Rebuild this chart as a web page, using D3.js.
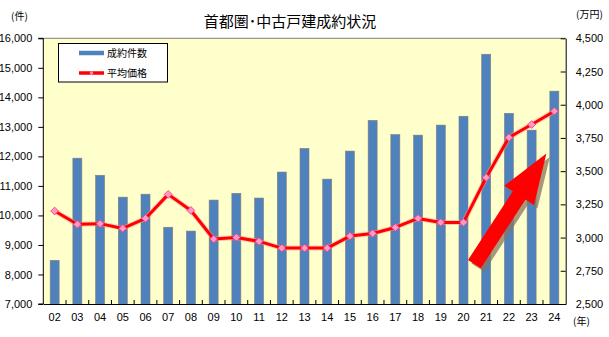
<!DOCTYPE html>
<html><head><meta charset="utf-8">
<script src="https://cdn.jsdelivr.net/npm/d3@7"></script>
<style>
body{margin:0;background:#fff;}
svg{display:block;}
text{font-family:"Liberation Sans Narrow","Liberation Sans",Arial,sans-serif;}
.jp{font-family:"Noto Sans CJK JP",sans-serif;}
</style></head><body>
<svg id="c" width="609" height="337"></svg>
<script>
const years = ["02","03","04","05","06","07","08","09","10","11","12","13","14","15","16","17","18","19","20","21","22","23","24"];
const contracts = [8480,11940,11360,10620,10720,9600,9470,10520,10750,10590,11470,12270,11230,12180,13220,12740,12720,13060,13360,15460,13460,12890,14210];
const prices = [3200,3100,3105,3069,3144,3325,3204,2989,3001,2971,2921,2921,2921,3011,3031,3076,3144,3114,3114,3452,3753,3851,3951];
const leftTicks = [7000,8000,9000,10000,11000,12000,13000,14000,15000,16000];
const rightTicks = [2500,2750,3000,3250,3500,3750,4000,4250,4500];
const title = "首都圏･中古戸建成約状況";
const legendLabels = ["成約件数","平均価格"];
// arrow annotation (index position on x, value on right axis)
const arrowFrom = {i:18.48, v:2800};
const arrowTo = {i:21.65, v:3633};

const svg = d3.select("#c");
const L=43.3, R=565.7, T=38.3, B=304;
const x = d3.scaleBand().domain(years).range([L,R]).paddingInner(0.6).paddingOuter(0.3);
const step = (R-L)/years.length;
const xi = i => L + step*(i+0.5);
const yL = d3.scaleLinear().domain([7000,16000]).range([B,T]);
const yR = d3.scaleLinear().domain([2500,4500]).range([B,T]);
const fmt = d3.format(",");

svg.append("rect").attr("x",L).attr("y",T).attr("width",R-L).attr("height",B-T).attr("fill","#ffffcc");
svg.append("line").attr("x1",L).attr("x2",R).attr("y1",T).attr("y2",T).attr("stroke","#808080");

// bars
svg.selectAll(".bar").data(years).join("rect")
  .attr("x",d=>xi(years.indexOf(d))-4.5).attr("width",9)
  .attr("y",(d,i)=>yL(contracts[i])).attr("height",(d,i)=>B-yL(contracts[i]))
  .attr("fill","#4f81bd").attr("stroke","#7f7f7f").attr("stroke-width",0.6);

// axes
const gl = svg.append("g").attr("transform",`translate(${L},0)`)
  .call(d3.axisLeft(yL).tickValues(leftTicks).tickFormat(fmt).tickSize(5).tickPadding(6));
const gr = svg.append("g").attr("transform",`translate(${R},0)`)
  .call(d3.axisRight(yR).tickValues(rightTicks).tickFormat(fmt).tickSizeInner(-5).tickSizeOuter(0).tickPadding(10));
const gb = svg.append("g").attr("transform",`translate(0,${B})`)
  .call(d3.axisBottom(x).tickSize(0).tickPadding(9));
[gl,gr,gb].forEach(g=>{
  g.selectAll("path,line").attr("stroke","#000");
  g.selectAll("text").attr("font-size","11px").attr("fill","#000")
   .attr("font-family",'"Liberation Sans Narrow","Liberation Sans",Arial,sans-serif');
});
gl.select("path").attr("d",`M-5,${T}H0V${B}H-5`);
// x ticks between categories (inside)
svg.selectAll(".xt").data(d3.range(1,years.length)).join("line")
  .attr("x1",d=>L+step*d).attr("x2",d=>L+step*d).attr("y1",B).attr("y2",B-4).attr("stroke","#000");

// line
const line = d3.line().x((d,i)=>xi(i)).y(d=>yR(d));
svg.append("path").datum(prices).attr("d",line).attr("fill","none")
  .attr("stroke","#ff9999").attr("stroke-width",5).attr("stroke-opacity",0.5).attr("stroke-linejoin","round");
svg.append("path").datum(prices).attr("d",line).attr("fill","none")
  .attr("stroke","#ff0000").attr("stroke-width",3).attr("stroke-linejoin","round");
svg.selectAll(".mk").data(prices).join("path")
  .attr("d",d3.symbol().type(d3.symbolSquare).size(30))
  .attr("transform",(d,i)=>`translate(${xi(i)},${yR(d)}) rotate(45)`)
  .attr("fill","#ff99cc").attr("stroke","#ff3366").attr("stroke-width",0.8);

// arrow
function arrowPts(){
  const x0=xi(arrowFrom.i), y0=yR(arrowFrom.v), x1=xi(arrowTo.i), y1=yR(arrowTo.v);
  const dx=x1-x0, dy=y1-y0, len=Math.hypot(dx,dy), ux=dx/len, uy=dy/len, px=-uy, py=ux;
  const sw=7.6, hw=17.7, hl=50;
  const bx=x1-ux*hl, by=y1-uy*hl;
  return [[x0+px*sw,y0+py*sw],[bx+px*sw,by+py*sw],[bx+px*hw,by+py*hw],[x1,y1],
          [bx-px*hw,by-py*hw],[bx-px*sw,by-py*sw],[x0-px*sw,y0-py*sw]];
}
const ap = arrowPts();
svg.append("polygon").attr("points",ap.map(p=>[p[0]+3.5,p[1]+3.5].join(",")).join(" "))
  .attr("fill","#8a7560").attr("opacity",0.75);
svg.append("polygon").attr("points",ap.map(p=>p.join(",")).join(" ")).attr("fill","#ff0000");

// legend
svg.append("rect").attr("x",58.5).attr("y",43.5).attr("width",109).attr("height",38.5)
  .attr("fill","#fff").attr("stroke","#000").attr("stroke-width",1);
svg.append("line").attr("x1",79).attr("x2",104).attr("y1",53).attr("y2",53)
  .attr("stroke","#4f81bd").attr("stroke-width",4.5);
svg.append("line").attr("x1",79).attr("x2",104).attr("y1",73).attr("y2",73)
  .attr("stroke","#ff0000").attr("stroke-width",3.5);
svg.append("path").attr("d",d3.symbol().type(d3.symbolSquare).size(8)).attr("transform","translate(91.5,73) rotate(45)").attr("fill","#ff99cc");
svg.selectAll(".lg").data(legendLabels).join("text").attr("class","jp")
  .attr("x",107).attr("y",(d,i)=>57+i*20).attr("font-size","10px").text(d=>d);

// titles
svg.append("text").attr("class","jp").attr("x",290).attr("y",27).attr("text-anchor","middle")
  .attr("font-size","15px").text(title);
svg.append("text").attr("class","jp").attr("x",11).attr("y",19.5).attr("font-size","10px").text("(件)");
svg.append("text").attr("class","jp").attr("x",576).attr("y",18).attr("font-size","10px").text("(万円)");
svg.append("text").attr("class","jp").attr("x",573).attr("y",325).attr("font-size","10px").text("(年)");
</script></body></html>
